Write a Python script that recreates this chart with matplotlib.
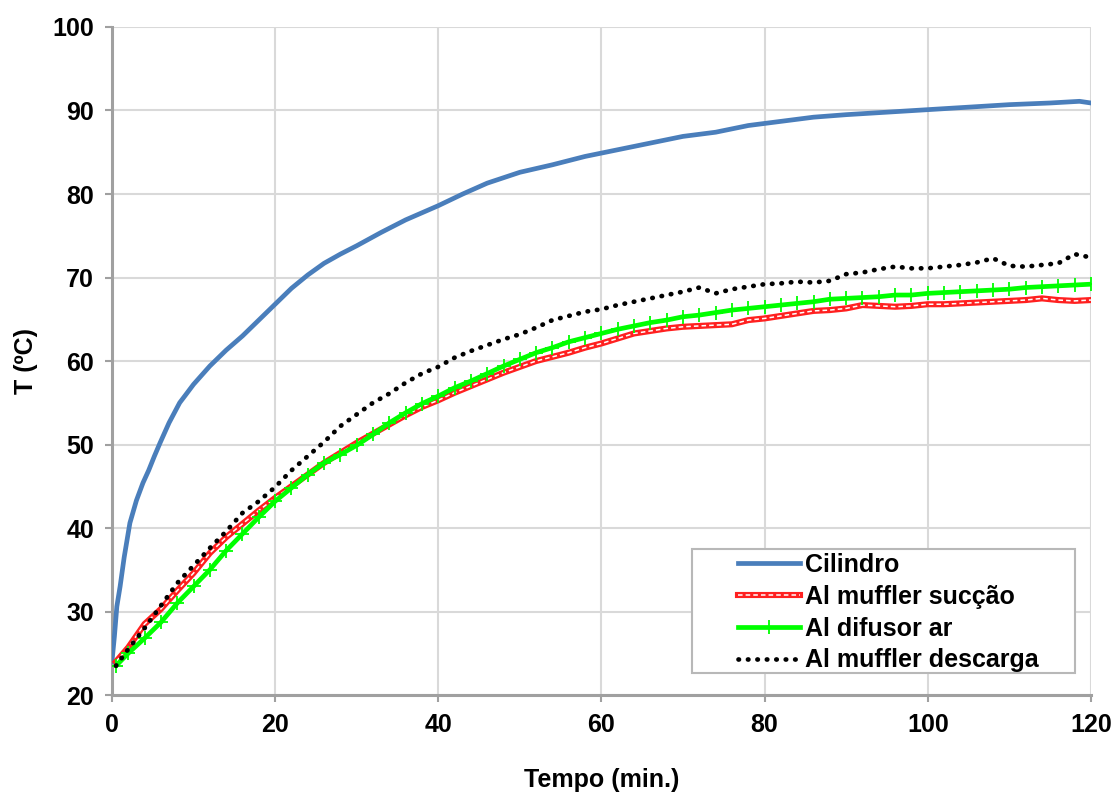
import matplotlib
matplotlib.use("Agg")
import matplotlib.pyplot as plt
from matplotlib.legend_handler import HandlerTuple
from matplotlib.patches import Rectangle

plt.rcParams["font.family"] = ["Liberation Sans", "DejaVu Sans"]

# Cilindro (denser sampling at the start, where it rises fast)
tempo_cil = [0, 0.3, 0.6, 1, 1.5, 2.2, 3, 3.8, 4.5, 5.2, 5.9, 7, 8.3, 9, 10, 12,
             14, 16, 18, 20, 22, 24, 26, 28, 30, 33, 36, 40, 43, 46, 50, 54,
             58, 62, 66, 70, 74, 78, 82, 86, 90, 95, 100, 105, 110, 115, 118.6, 120]
cilindro = [24, 27, 30.6, 33, 36.5, 40.6, 43.3, 45.4, 46.9, 48.6, 50.2, 52.6, 55.0,
            55.9, 57.2, 59.4, 61.3, 63.0, 64.9, 66.8, 68.7, 70.3, 71.7, 72.8, 73.8,
            75.4, 76.9, 78.6, 80.0, 81.3, 82.6, 83.5, 84.5, 85.3, 86.1, 86.9, 87.4,
            88.2, 88.7, 89.2, 89.5, 89.8, 90.1, 90.4, 90.7, 90.9, 91.1, 90.9]

# the three aluminium sensors, every 2 min
tempo = [0.5, 2, 4, 6, 8, 10, 12, 14, 16, 18, 20, 22, 24, 26, 28, 30, 32, 34, 36, 38,
         40, 42, 44, 46, 48, 50, 52, 54, 56, 58, 60, 62, 64, 66, 68, 70, 72, 74, 76, 78,
         80, 82, 84, 86, 88, 90, 92, 94, 96, 98, 100, 102, 104, 106, 108, 110, 112,
         114, 116, 118, 120]
muffler_succao = [24.0, 25.7, 28.5, 30.3, 32.5, 34.6, 37.0, 38.9, 40.5, 42.1, 43.6,
                  45.0, 46.4, 47.8, 49.0, 50.2, 51.3, 52.4, 53.5, 54.5, 55.3, 56.2,
                  57.0, 57.8, 58.6, 59.3, 60.0, 60.5, 61.0, 61.6, 62.1, 62.7, 63.3,
                  63.6, 63.9, 64.1, 64.2, 64.3, 64.4, 64.9, 65.1, 65.4, 65.7, 66.0,
                  66.1, 66.3, 66.7, 66.6, 66.5, 66.6, 66.8, 66.8, 66.9, 67.0, 67.1,
                  67.2, 67.3, 67.5, 67.3, 67.2, 67.3]
difusor_ar = [23.5, 25.0, 26.8, 28.7, 31.0, 33.0, 35.0, 37.3, 39.3, 41.3, 43.2, 44.8,
              46.4, 47.8, 48.8, 49.9, 51.2, 52.6, 53.8, 54.9, 55.8, 56.8, 57.6, 58.5,
              59.4, 60.2, 61.0, 61.6, 62.3, 62.8, 63.3, 63.8, 64.2, 64.6, 64.9, 65.3,
              65.5, 65.8, 66.1, 66.3, 66.5, 66.7, 66.9, 67.1, 67.4, 67.5, 67.6, 67.7,
              67.9, 67.9, 68.1, 68.2, 68.3, 68.4, 68.5, 68.6, 68.8, 68.9, 69.0, 69.1,
              69.2]
muffler_descarga = [23.5, 25.5, 28.0, 30.7, 33.4, 35.5, 37.6, 39.6, 41.8, 43.2, 44.9,
                    46.9, 48.6, 50.3, 52.2, 53.6, 55.0, 56.1, 57.4, 58.5, 59.3, 60.4,
                    61.2, 61.9, 62.6, 63.2, 64.0, 64.9, 65.4, 65.9, 66.2, 66.7, 67.1,
                    67.5, 67.9, 68.3, 68.8, 68.1, 68.6, 68.9, 69.2, 69.3, 69.5, 69.4,
                    69.6, 70.4, 70.6, 71.0, 71.3, 71.1, 71.1, 71.3, 71.5, 71.8, 72.3,
                    71.4, 71.3, 71.5, 71.7, 72.8, 72.4]

fig = plt.figure(figsize=(11.15, 8.01), dpi=100)
ax = fig.add_axes([0.1004, 0.1323, 0.878, 0.834])

l_cil, = ax.plot(tempo_cil, cilindro, color="#4a7ebb", lw=3.4, zorder=3)
l_suc, = ax.plot(tempo, muffler_succao, color="#ff2020", lw=4.4, zorder=4)
l_suc_in, = ax.plot(tempo, muffler_succao, color="white", lw=1.1,
                    ls=(0, (3, 2)), zorder=4)
l_dif, = ax.plot(tempo, difusor_ar, color="#00ff00", lw=3.4, marker="+",
                 markersize=10, markeredgewidth=1.3, zorder=5)
l_desc, = ax.plot(tempo, muffler_descarga, color="black", lw=3.4,
                  ls=(0, (0.1, 1.9)), dash_capstyle="round", zorder=6)

ax.set_xlim(0, 120)
ax.set_ylim(20, 100)
ax.set_xticks(range(0, 121, 20))
ax.set_yticks(range(20, 101, 10))
ax.grid(True, color="#d9d9d9", lw=1.5)
ax.set_axisbelow(True)
for s in ("top", "right"):
    ax.spines[s].set_visible(False)
for s in ("left", "bottom"):
    ax.spines[s].set_color("#a0a0a0")
    ax.spines[s].set_linewidth(2.2)
ax.tick_params(colors="#a0a0a0", length=5, width=1.5, labelcolor="black",
               labelsize=18, pad=8)
for lab in ax.get_xticklabels() + ax.get_yticklabels():
    lab.set_fontweight("bold")

ax.set_xlabel("Tempo (min.)", fontsize=18, fontweight="bold", labelpad=22)
ax.set_ylabel("T (ºC)", fontsize=18, fontweight="bold", labelpad=10)

# legend box drawn separately so the wide left margin can be kept
ax.add_patch(Rectangle((0.5925, 0.033), 0.3912, 0.1857, transform=ax.transAxes,
                       facecolor="white", edgecolor="#b8b8b8", lw=1.5, zorder=7))
leg = ax.legend([l_cil, (l_suc, l_suc_in), l_dif, l_desc],
                ["Cilindro", "Al muffler sucção", "Al difusor ar", "Al muffler descarga"],
                handler_map={tuple: HandlerTuple(ndivide=1)},
                loc="upper left", bbox_to_anchor=(0.6394, 0.2125),
                borderaxespad=0, borderpad=0, frameon=False,
                prop={"size": 18, "weight": "bold"}, handlelength=2.5,
                handletextpad=0.2, labelspacing=0.31)
leg.set_zorder(8)

fig.savefig("out.png", dpi=100)
